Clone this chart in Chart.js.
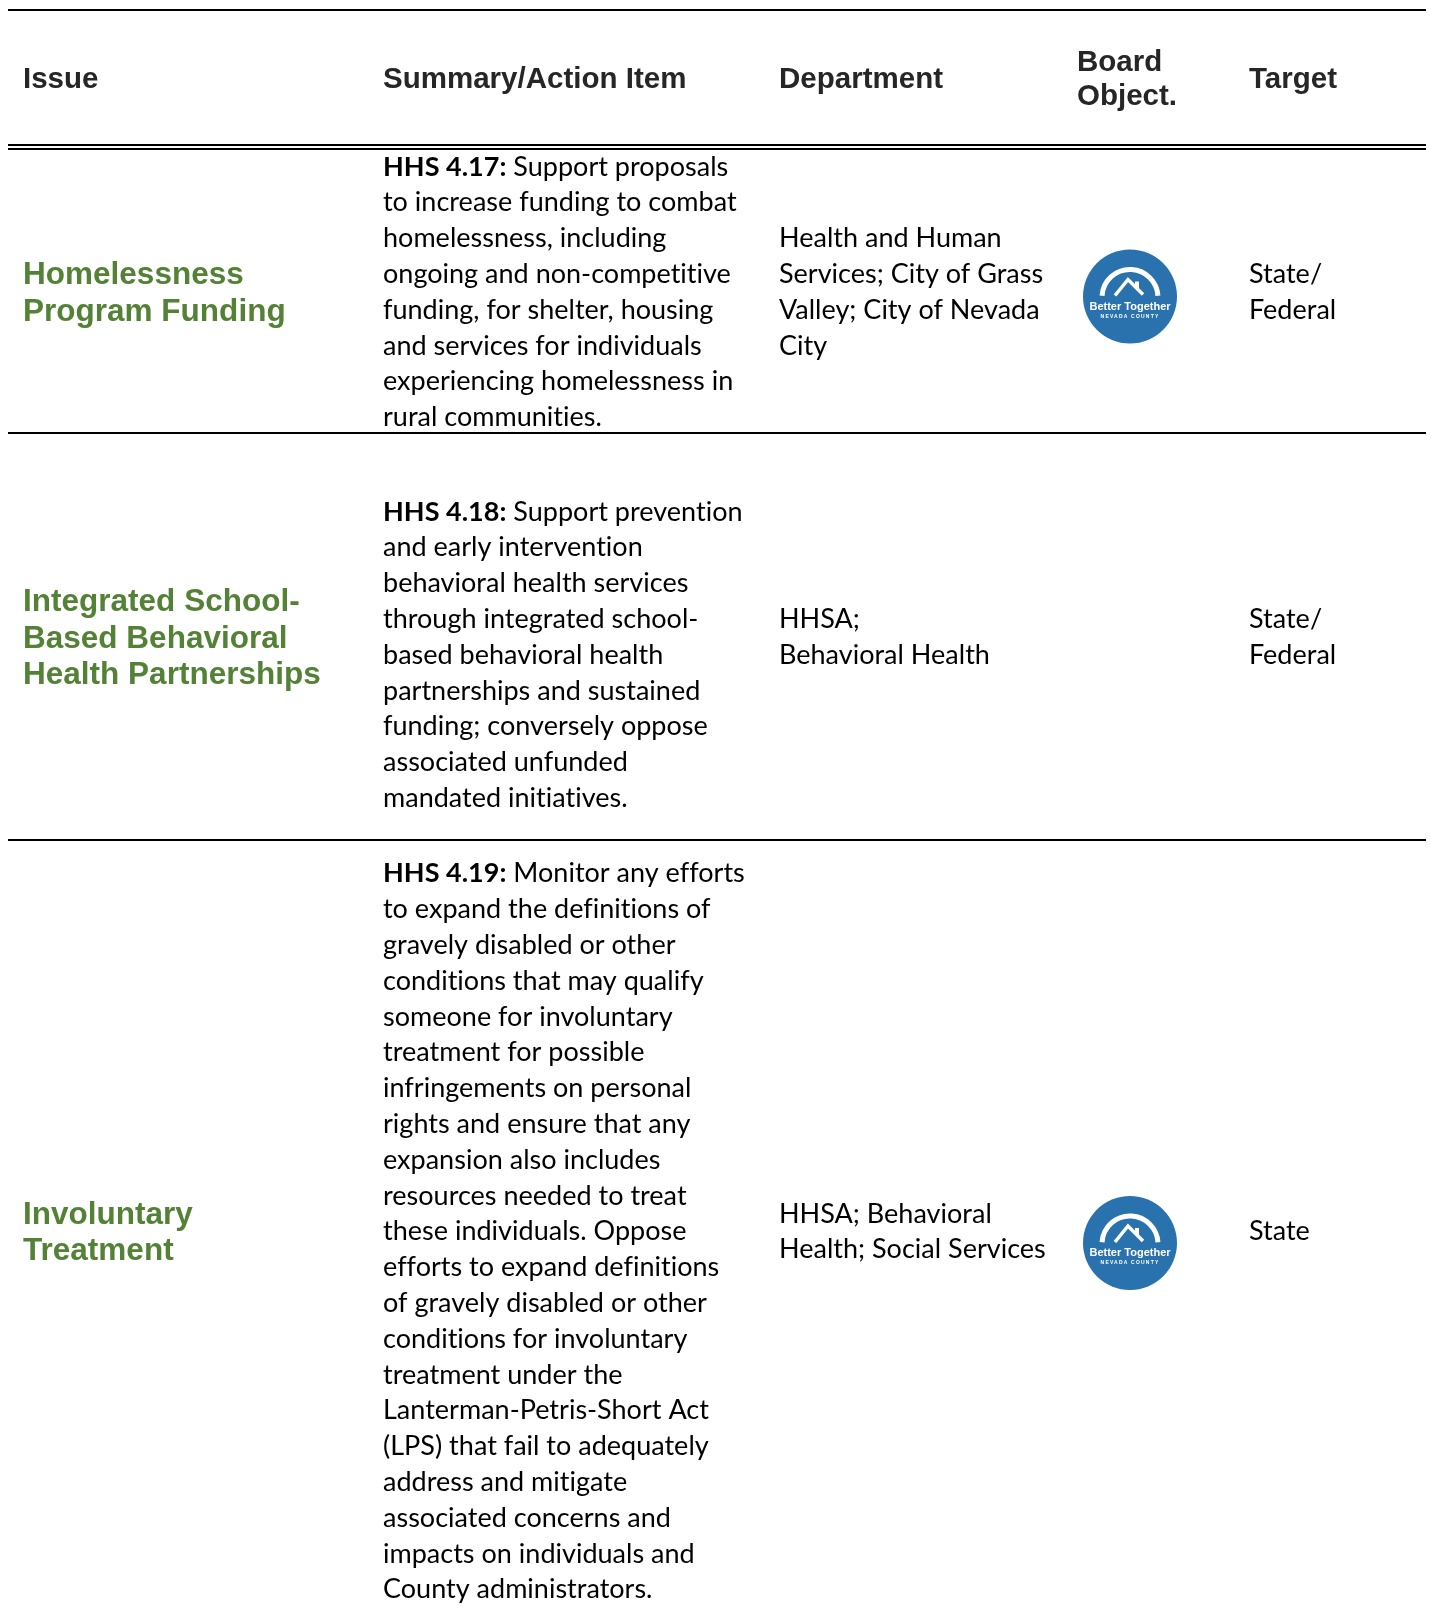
<!DOCTYPE html>
<html>
<head>
<meta charset="utf-8">
<script src="https://cdn.jsdelivr.net/npm/chart.js@4.4.1/dist/chart.umd.min.js"></script>
<style>
  html, body { margin: 0; padding: 0; background: #fff; overflow: hidden; }
  #wrap { width: 1431px; height: 1615px; }
</style>
</head>
<body>
<div id="wrap"><canvas id="tabla" width="1431" height="1615"></canvas></div>
<script>
// contenido de la tabla
const headers = [['Issue'], ['Summary/Action Item'], ['Department'], ['Board', 'Object.'], ['Target']];
const issues = [
  ['Homelessness', 'Program Funding'],
  ['Integrated School-', 'Based Behavioral', 'Health Partnerships'],
  ['Involuntary', 'Treatment']
];
const codes = ['HHS 4.17:', 'HHS 4.18:', 'HHS 4.19:'];
const summaries = [
  [' Support proposals', 'to increase funding to combat', 'homelessness, including',
   'ongoing and non-competitive', 'funding, for shelter, housing', 'and services for individuals',
   'experiencing homelessness in', 'rural communities.'],
  ['', ' Support prevention', 'and early intervention', 'behavioral health services',
   'through integrated school-', 'based behavioral health', 'partnerships and sustained',
   'funding; conversely oppose', 'associated unfunded', 'mandated initiatives.'],
  [' Monitor any efforts', 'to expand the definitions of', 'gravely disabled or other',
   'conditions that may qualify', 'someone for involuntary', 'treatment for possible',
   'infringements on personal', 'rights and ensure that any', 'expansion also includes',
   'resources needed to treat', 'these individuals. Oppose', 'efforts to expand definitions',
   'of gravely disabled or other', 'conditions for involuntary', 'treatment under the',
   'Lanterman-Petris-Short Act', '(LPS) that fail to adequately', 'address and mitigate',
   'associated concerns and', 'impacts on individuals and', 'County administrators.']
];
const departments = [
  ['Health and Human', 'Services; City of Grass', 'Valley; City of Nevada', 'City'],
  ['HHSA;', 'Behavioral Health'],
  ['HHSA; Behavioral', 'Health; Social Services']
];
const boardObjective = [true, false, true];
const targets = [['State/', 'Federal'], ['State/', 'Federal'], ['State']];

// maquetacion (pixeles de pagina)
const colX = [23, 383, 779, 1077, 1249];
const logoX = 1130;
const logoDy = [5, 0, 12]; // el logo no queda centrado igual en cada fila
const rowEdges = [150, 433, 840, 1622];
const headerMid = 78;
const rowMid = i => (rowEdges[i] + rowEdges[i + 1]) / 2;

const HEAD_FONT = 'bold 29.5px "Liberation Sans", Arial, sans-serif';
const ISSUE_FONT = 'bold 31.5px "Liberation Sans", Arial, sans-serif';
const BODY_FONT = '27px Lato, "Open Sans", sans-serif';
const BODY_BOLD = 'bold 27px Lato, "Open Sans", sans-serif';
const GREEN = '#538135';

const logoPoints = [];
boardObjective.forEach((b, i) => {
  if (b) logoPoints.push({ x: logoX, y: rowMid(i) + logoDy[i], r: 47 });
});

function drawBlock(ctx, sx, sy, lines, x, mid, gap, font, color, size) {
  ctx.font = font;
  ctx.fillStyle = color;
  const first = mid - (lines.length - 1) * gap / 2;
  lines.forEach((t, k) => {
    ctx.fillText(t, sx(x), sy(first + k * gap) + size * 0.35);
  });
}

const tablePlugin = {
  id: 'tabla',
  beforeDatasetsDraw(chart) {
    const ctx = chart.ctx;
    const sx = v => chart.scales.x.getPixelForValue(v);
    const sy = v => chart.scales.y.getPixelForValue(v);
    ctx.save();
    ctx.fillStyle = '#000';
    const rule = y => ctx.fillRect(sx(8), sy(y) - 1, sx(1426) - sx(8), 2);
    rule(10);
    rule(145);
    rule(149);
    rule(rowEdges[1]);
    rule(rowEdges[2]);
    ctx.restore();
  },
  afterDatasetsDraw(chart) {
    const ctx = chart.ctx;
    const sx = v => chart.scales.x.getPixelForValue(v);
    const sy = v => chart.scales.y.getPixelForValue(v);
    ctx.save();
    ctx.textAlign = 'left';
    ctx.textBaseline = 'alphabetic';
    ctx.letterSpacing = '0.01px'; // sin ligaduras "ti"

    // cabecera
    headers.forEach((h, c) => drawBlock(ctx, sx, sy, h, colX[c], headerMid, 34, HEAD_FONT, '#262626', 29.5));

    // filas
    issues.forEach((iss, r) => {
      const mid = rowMid(r);
      drawBlock(ctx, sx, sy, iss, colX[0], mid, 36.8, ISSUE_FONT, GREEN, 31.5);
      drawBlock(ctx, sx, sy, departments[r], colX[2], mid, 35.8, BODY_FONT, '#000', 27);
      drawBlock(ctx, sx, sy, targets[r], colX[4], mid, 35.8, BODY_FONT, '#000', 27);

      const lines = summaries[r];
      const first = mid - (lines.length - 1) * 35.8 / 2;
      let codeDone = false;
      lines.forEach((t, k) => {
        if (t === '') return;
        const y = sy(first + k * 35.8) + 27 * 0.35;
        let x = sx(colX[1]);
        if (!codeDone) {
          ctx.font = BODY_BOLD;
          ctx.fillStyle = '#000';
          ctx.fillText(codes[r], x, y);
          x += ctx.measureText(codes[r]).width;
          codeDone = true;
        }
        ctx.font = BODY_FONT;
        ctx.fillStyle = '#000';
        ctx.fillText(t, x, y);
      });
    });

    // dibujo del logo sobre cada burbuja
    chart.getDatasetMeta(0).data.forEach(el => {
      const cx = el.x, cy = el.y;
      ctx.strokeStyle = '#fff';
      ctx.fillStyle = '#fff';
      ctx.lineWidth = 5;
      ctx.beginPath();
      ctx.arc(cx, cy + 1, 28, Math.PI * 1.02, Math.PI * 1.98);
      ctx.stroke();
      ctx.lineWidth = 3.5;
      ctx.lineJoin = 'miter';
      ctx.beginPath();
      ctx.moveTo(cx - 15, cy - 1);
      ctx.lineTo(cx - 2, cy - 17);
      ctx.lineTo(cx + 13, cy - 2);
      ctx.stroke();
      ctx.fillRect(cx + 5, cy - 15, 4, 7);
      ctx.textAlign = 'center';
      ctx.letterSpacing = '0px';
      ctx.font = 'bold 11px "Liberation Sans", Arial, sans-serif';
      ctx.fillText('Better Together', cx, cy + 13);
      ctx.font = 'bold 5px "Liberation Sans", Arial, sans-serif';
      ctx.letterSpacing = '1.2px';
      ctx.fillText('NEVADA COUNTY', cx, cy + 21);
      ctx.letterSpacing = '0px';
      ctx.textAlign = 'left';
    });
    ctx.restore();
  }
};

new Chart(document.getElementById('tabla'), {
  type: 'bubble',
  data: {
    datasets: [{
      data: logoPoints,
      backgroundColor: '#2a72ad',
      borderWidth: 0,
      hoverRadius: 0
    }]
  },
  options: {
    responsive: false,
    animation: false,
    devicePixelRatio: 1,
    events: [],
    layout: { padding: 0, autoPadding: false },
    plugins: { legend: { display: false }, tooltip: { enabled: false } },
    scales: {
      x: { type: 'linear', min: 0, max: 1431, display: false },
      y: { type: 'linear', min: 0, max: 1615, reverse: true, display: false }
    }
  },
  plugins: [tablePlugin]
});
</script>
</body>
</html>
